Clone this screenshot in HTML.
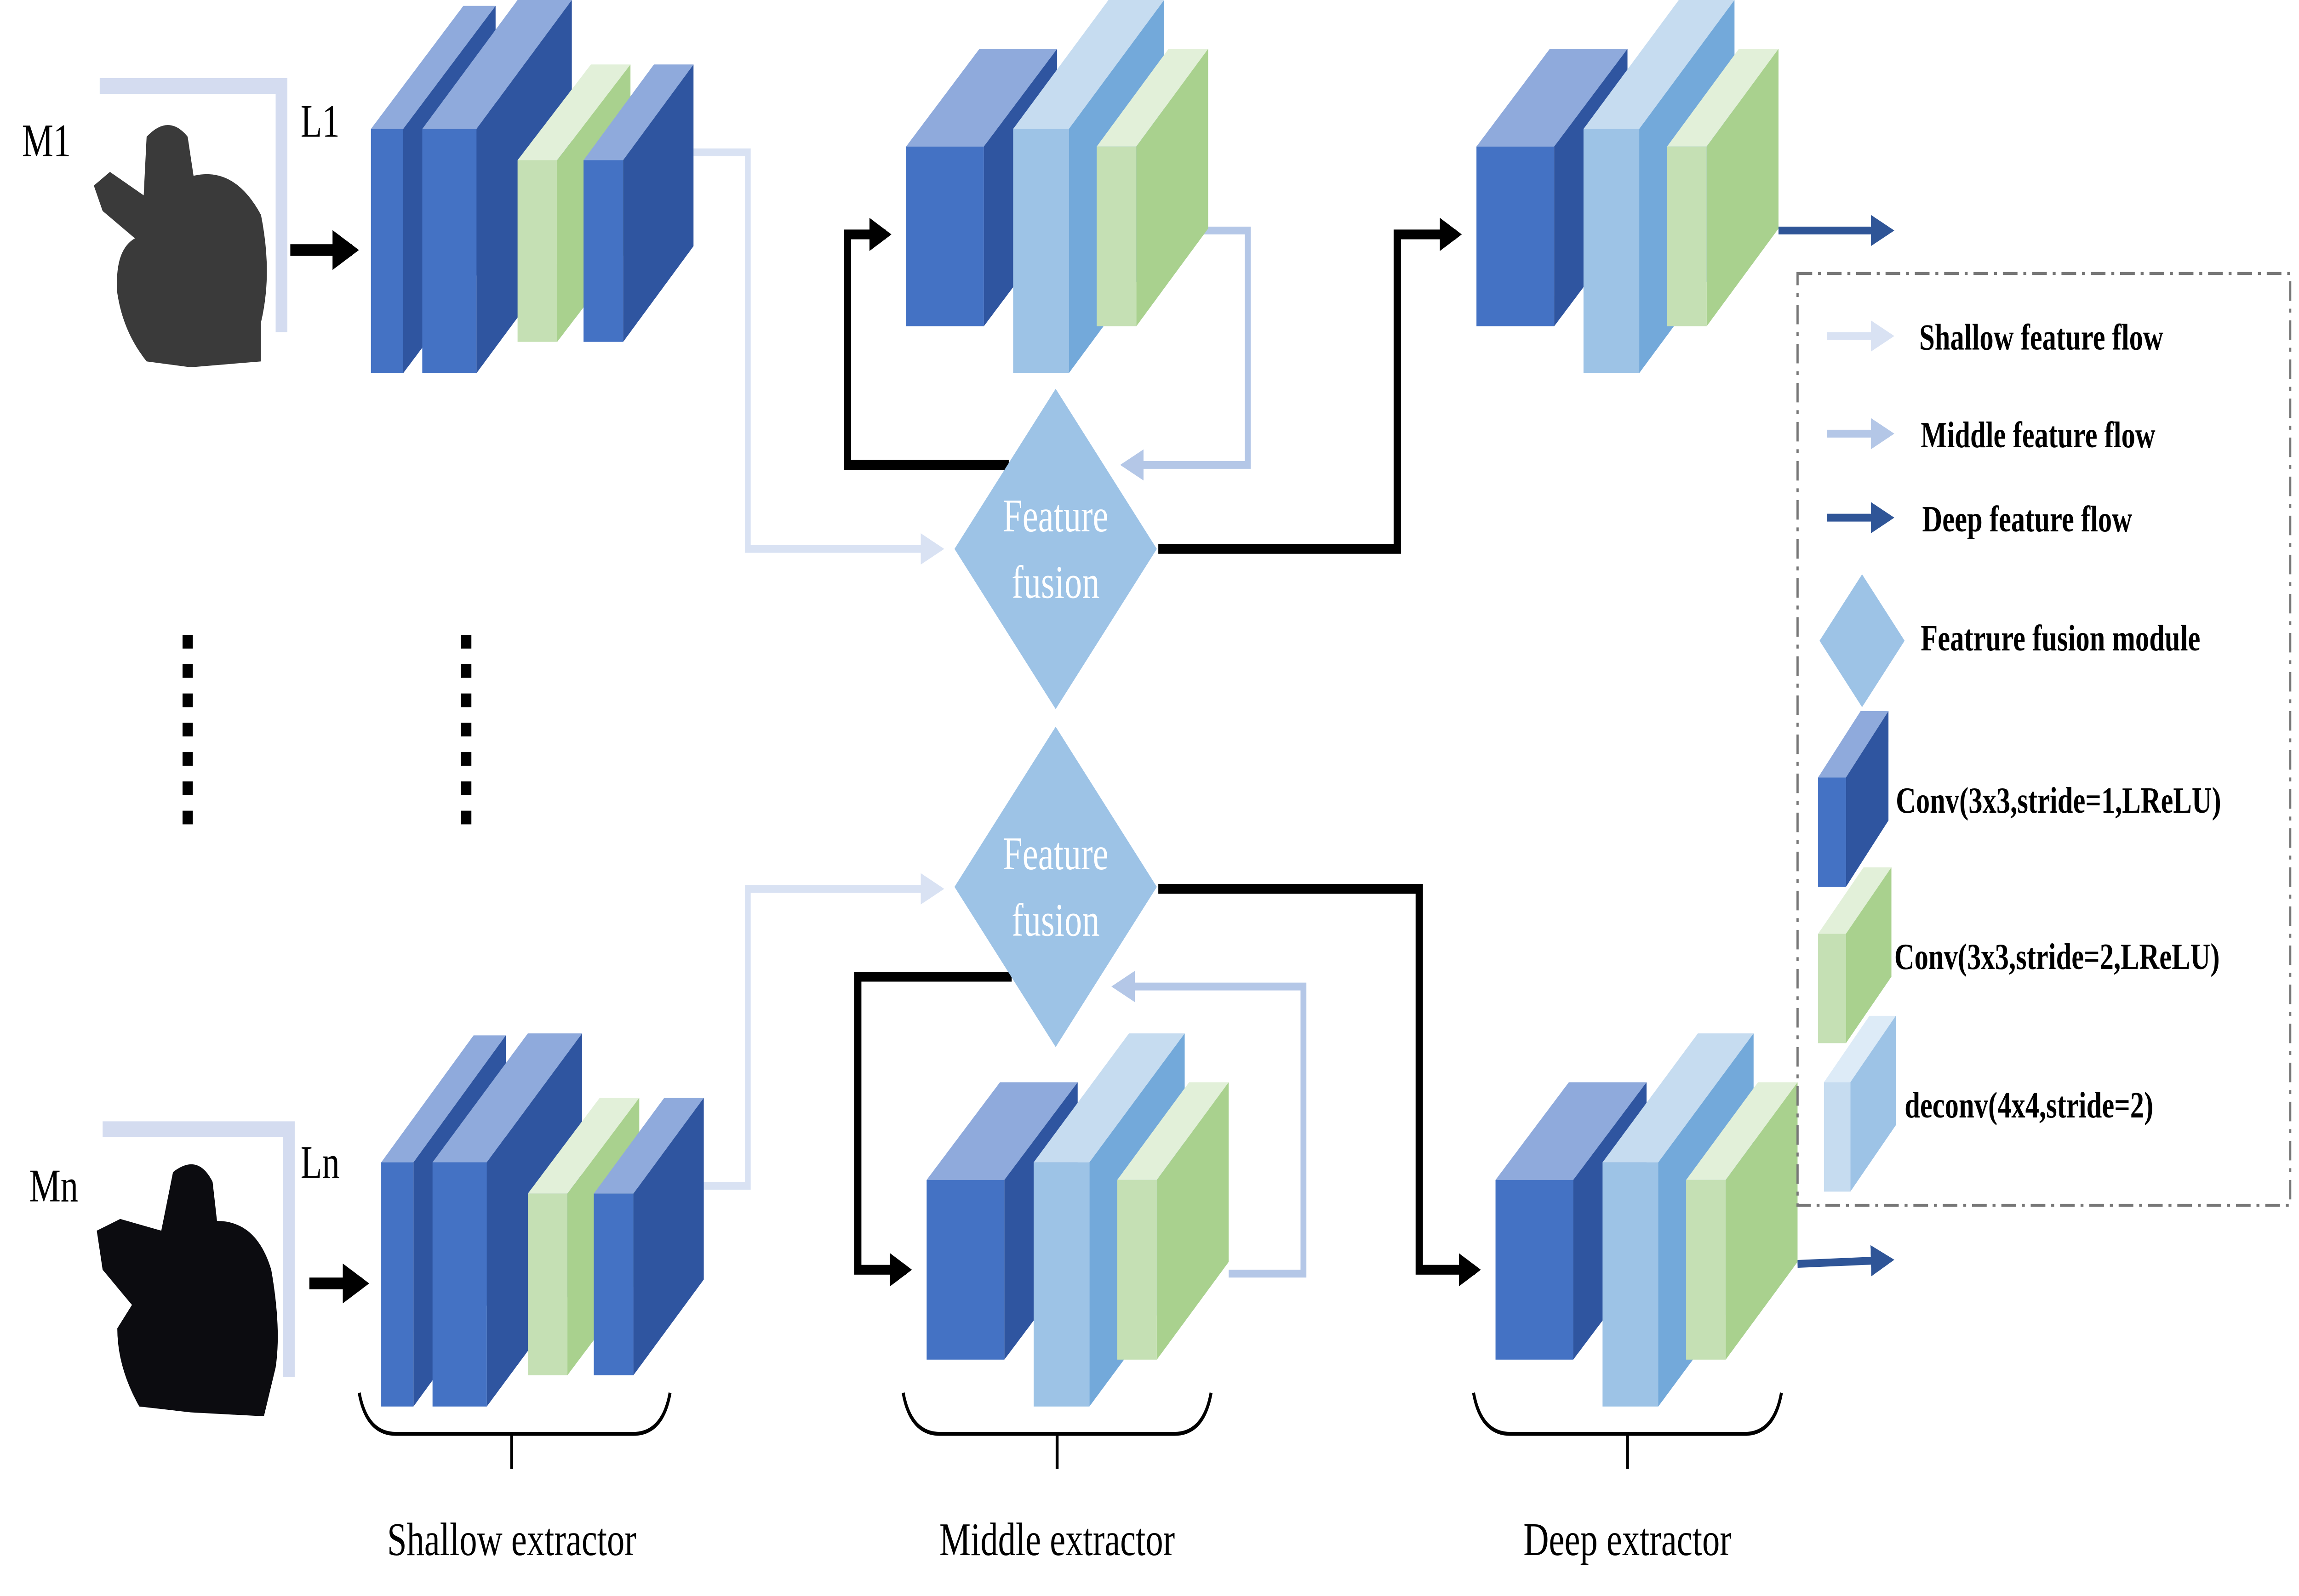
<!DOCTYPE html>
<html><head><meta charset="utf-8"><style>
html,body{margin:0;padding:0;background:#fff;overflow:hidden;width:100%;height:100%}
svg{display:block;width:100vw;height:100vh}
text{font-family:"Liberation Serif",serif}
</style></head><body>
<svg viewBox="0 0 1568 817" preserveAspectRatio="none" xmlns="http://www.w3.org/2000/svg">
<defs>
<marker id="ak" markerWidth="4" markerHeight="4" refX="2.2" refY="2" orient="auto" markerUnits="strokeWidth"><path d="M0,0.3 L3,2 L0,3.7 Z" fill="#000"/></marker>
<marker id="as" markerWidth="5" markerHeight="5" refX="3" refY="2.5" orient="auto" markerUnits="strokeWidth"><path d="M0,0.5 L4,2.5 L0,4.5 Z" fill="#D9E2F3"/></marker>
<marker id="am" markerWidth="5" markerHeight="5" refX="3" refY="2.5" orient="auto" markerUnits="strokeWidth"><path d="M0,0.5 L4,2.5 L0,4.5 Z" fill="#B4C7E7"/></marker>
<marker id="ad" markerWidth="5" markerHeight="5" refX="3" refY="2.5" orient="auto" markerUnits="strokeWidth"><path d="M0,0.5 L4,2.5 L0,4.5 Z" fill="#2F5597"/></marker>
</defs>

<path d="M68,44 H192 V170" fill="none" stroke="#D4DCF0" stroke-width="8"/>
<path d="M70,578 H197 V705" fill="none" stroke="#D4DCF0" stroke-width="8"/>
<g fill="#3a3a3a">
<path d="M100,70 Q115,58 128,70 L132,90 Q160,85 178,110 Q186,140 178,165 L178,185 L130,188 L100,185 Q84,170 80,150 Q78,128 92,122 L70,108 L64,95 L75,88 L98,100 Z"/>
</g>
<g fill="#0c0c10">
<path d="M118,600 Q135,590 145,605 L148,625 Q175,625 185,650 Q192,680 188,700 L180,725 L130,723 L95,720 Q80,700 80,680 L90,668 L70,650 L66,630 L82,624 L110,630 Z"/>
</g>
<text x="15" y="80" font-size="24">M1</text>
<text x="205" y="70" font-size="24">L1</text>
<text x="20" y="615" font-size="24">Mn</text>
<text x="205" y="603" font-size="24">Ln</text>
<line x1="198" y1="128" x2="240" y2="128" stroke="#000" stroke-width="6" marker-end="url(#ak)"/>
<line x1="211" y1="657" x2="247" y2="657" stroke="#000" stroke-width="6" marker-end="url(#ak)"/>
<line x1="128" y1="325" x2="128" y2="428" stroke="#000" stroke-width="7" stroke-dasharray="7,8"/>
<line x1="318" y1="325" x2="318" y2="428" stroke="#000" stroke-width="7" stroke-dasharray="7,8"/>

<path d="M473,78 H510 V281 H640" fill="none" stroke="#D9E2F3" stroke-width="4" marker-end="url(#as)"/>
<path d="M480,607 H510 V455 H640" fill="none" stroke="#D9E2F3" stroke-width="4" marker-end="url(#as)"/>
<path d="M794,118 H851 V238 H768" fill="none" stroke="#B4C7E7" stroke-width="4" marker-end="url(#am)"/>
<path d="M838,652 H889 V505 H762" fill="none" stroke="#B4C7E7" stroke-width="4" marker-end="url(#am)"/>
<path d="M688,238 H578 V120 H604" fill="none" stroke="#000" stroke-width="5" marker-end="url(#ak)"/>
<path d="M790,281 H953 V120 H993" fill="none" stroke="#000" stroke-width="5" marker-end="url(#ak)"/>
<path d="M690,500 H585 V650 H618" fill="none" stroke="#000" stroke-width="5" marker-end="url(#ak)"/>
<path d="M790,455 H968 V650 H1006" fill="none" stroke="#000" stroke-width="5" marker-end="url(#ak)"/>
<line x1="1213" y1="118" x2="1288" y2="118" stroke="#2F5597" stroke-width="4" marker-end="url(#ad)"/>
<line x1="1226" y1="647" x2="1288" y2="645" stroke="#2F5597" stroke-width="4" marker-end="url(#ad)"/>

<g>
<g><polygon points="253,66 275,66 338,3 316,3" fill="#8FAADC"/><polygon points="275,66 338,3 338,128 275,191" fill="#2F55A0"/><rect x="253" y="66" width="22" height="125" fill="#4472C4"/></g>
<g><polygon points="288,66 325,66 390,0 353,0" fill="#8FAADC"/><polygon points="325,66 390,0 390,125 325,191" fill="#2F55A0"/><rect x="288" y="66" width="37" height="125" fill="#4472C4"/></g>
<g><polygon points="353,82 380,82 430,33 403,33" fill="#E2F0D9"/><polygon points="380,82 430,33 430,126 380,175" fill="#A9D18E"/><rect x="353" y="82" width="27" height="93" fill="#C5E0B4"/></g>
<g><polygon points="398,82 425,82 473,33 446,33" fill="#8FAADC"/><polygon points="425,82 473,33 473,126 425,175" fill="#2F55A0"/><rect x="398" y="82" width="27" height="93" fill="#4472C4"/></g>
<g><polygon points="260,595 282,595 345,530 323,530" fill="#8FAADC"/><polygon points="282,595 345,530 345,655 282,720" fill="#2F55A0"/><rect x="260" y="595" width="22" height="125" fill="#4472C4"/></g>
<g><polygon points="295,595 332,595 397,529 360,529" fill="#8FAADC"/><polygon points="332,595 397,529 397,654 332,720" fill="#2F55A0"/><rect x="295" y="595" width="37" height="125" fill="#4472C4"/></g>
<g><polygon points="360,611 387,611 436,562 409,562" fill="#E2F0D9"/><polygon points="387,611 436,562 436,655 387,704" fill="#A9D18E"/><rect x="360" y="611" width="27" height="93" fill="#C5E0B4"/></g>
<g><polygon points="405,611 432,611 480,562 453,562" fill="#8FAADC"/><polygon points="432,611 480,562 480,655 432,704" fill="#2F55A0"/><rect x="405" y="611" width="27" height="93" fill="#4472C4"/></g>
</g>
<g id="set1">
<polygon points="618,75 671,75 721,25 668,25" fill="#8FAADC"/><polygon points="671,75 721,25 721,117 671,167" fill="#2F55A0"/><rect x="618" y="75" width="53" height="92" fill="#4472C4"/>
<polygon points="691,66 729,66 794,0 756,0" fill="#C6DCF0"/><polygon points="729,66 794,0 794,125 729,191" fill="#73A9DA"/><rect x="691" y="66" width="38" height="125" fill="#9DC3E6"/>
<polygon points="748,75 775,75 824,25 797,25" fill="#E2F0D9"/><polygon points="775,75 824,25 824,117 775,167" fill="#A9D18E"/><rect x="748" y="75" width="27" height="92" fill="#C5E0B4"/>
</g>
<use href="#set1" transform="translate(389,0)"/>
<use href="#set1" transform="translate(14,529)"/>
<use href="#set1" transform="translate(402,529)"/>

<polygon points="720,199 789,281 720,363 651,281" fill="#9DC3E6"/>
<polygon points="720,372 789,454 720,536 651,454" fill="#9DC3E6"/>
<text x="720" y="272" font-size="24" fill="#fff" text-anchor="middle">Feature</text>
<text x="720" y="306" font-size="24" fill="#fff" text-anchor="middle">fusion</text>
<text x="720" y="445" font-size="24" fill="#fff" text-anchor="middle">Feature</text>
<text x="720" y="479" font-size="24" fill="#fff" text-anchor="middle">fusion</text>

<g fill="none" stroke="#000" stroke-width="2">
<path d="M245,713 Q250,734 270,734 H432 Q452,734 457,713"/><line x1="349" y1="734" x2="349" y2="752"/>
<path d="M616,713 Q621,734 641,734 H801 Q821,734 826,713"/><line x1="721" y1="734" x2="721" y2="752"/>
<path d="M1005,713 Q1010,734 1030,734 H1190 Q1210,734 1215,713"/><line x1="1110" y1="734" x2="1110" y2="752"/>
</g>
<text x="349" y="796" font-size="24" text-anchor="middle">Shallow extractor</text>
<text x="721" y="796" font-size="24" text-anchor="middle">Middle extractor</text>
<text x="1110" y="796" font-size="24" text-anchor="middle">Deep extractor</text>

<rect x="1226" y="140" width="336" height="477" fill="none" stroke="#777" stroke-width="1.5" stroke-dasharray="10,4,2,4"/>
<line x1="1246" y1="172" x2="1288" y2="172" stroke="#D9E2F3" stroke-width="4" marker-end="url(#as)"/>
<line x1="1246" y1="222" x2="1288" y2="222" stroke="#B4C7E7" stroke-width="4" marker-end="url(#am)"/>
<line x1="1246" y1="265" x2="1288" y2="265" stroke="#2F5597" stroke-width="4" marker-end="url(#ad)"/>
<g font-size="19" font-weight="bold">
<text x="1309" y="179">Shallow feature flow</text>
<text x="1310" y="229">Middle feature flow</text>
<text x="1311" y="272">Deep feature flow</text>
<text x="1310" y="333">Featrure fusion module</text>
<text x="1293" y="416">Conv(3x3,stride=1,LReLU)</text>
<text x="1292" y="496">Conv(3x3,stride=2,LReLU)</text>
<text x="1299" y="572">deconv(4x4,stride=2)</text>
</g>
<polygon points="1270,294 1299,328 1270,362 1241,328" fill="#9DC3E6"/>
<polygon points="1240,398 1259,398 1288,364 1269,364" fill="#8FAADC"/><polygon points="1259,398 1288,364 1288,420 1259,454" fill="#2F55A0"/><rect x="1240" y="398" width="19" height="56" fill="#4472C4"/>
<polygon points="1240,478 1259,478 1290,444 1271,444" fill="#E2F0D9"/><polygon points="1259,478 1290,444 1290,500 1259,534" fill="#A9D18E"/><rect x="1240" y="478" width="19" height="56" fill="#C5E0B4"/>
<polygon points="1244,554 1262,554 1293,520 1275,520" fill="#DDEBF7"/><polygon points="1262,554 1293,520 1293,576 1262,610" fill="#9DC3E6"/><rect x="1244" y="554" width="18" height="56" fill="#C6DCF0"/>
</svg>
</body></html>
